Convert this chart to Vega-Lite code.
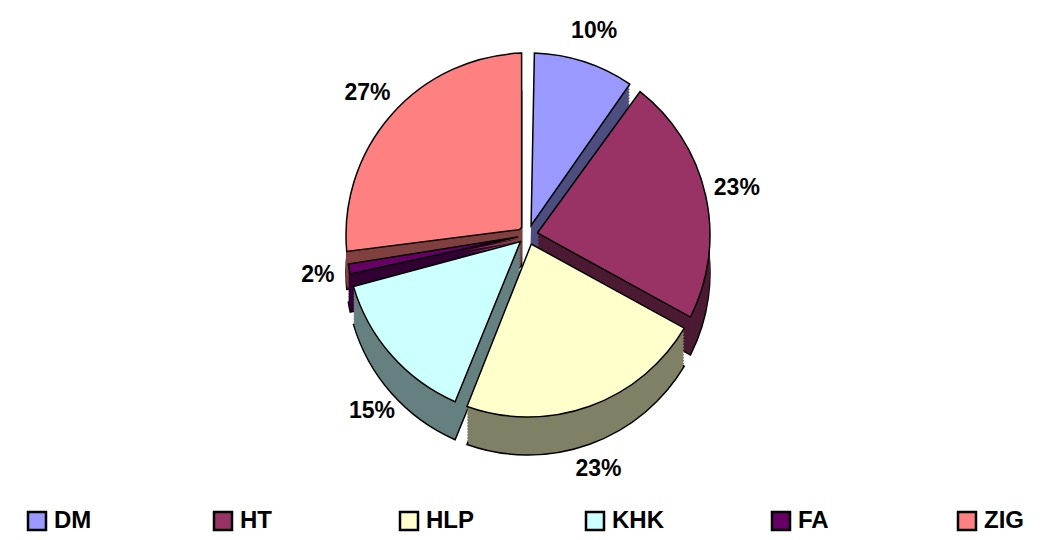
{
  "$schema": "https://vega.github.io/schema/vega-lite/v6.json",
  "autosize": {"type": "none"},
  "width": 1056,
  "height": 470,
  "padding": {"top": 0, "left": 0, "right": 0, "bottom": 70},
  "background": "white",
  "data": {
    "values": [
      {"cat": "DM", "ord": 1, "share": 0.10},
      {"cat": "HT", "ord": 2, "share": 0.23},
      {"cat": "HLP", "ord": 3, "share": 0.23},
      {"cat": "KHK", "ord": 4, "share": 0.15},
      {"cat": "FA", "ord": 5, "share": 0.02},
      {"cat": "ZIG", "ord": 6, "share": 0.27}
    ]
  },
  "encoding": {
    "theta": {"field": "share", "type": "quantitative", "stack": true},
    "order": {"field": "ord", "type": "quantitative"}
  },
  "resolve": {"scale": {"color": "independent"}, "legend": {"color": "independent"}},
  "layer": [
    {"mark": {"type": "arc", "outerRadius": 182, "innerRadius": 10, "padAngle": 0.07, "yOffset": 38, "stroke": "black", "strokeWidth": 1.5},
     "encoding": {"color": {"field": "cat", "type": "nominal", "legend": null, "scale": {"domain": ["DM", "HT", "HLP", "KHK", "FA", "ZIG"], "range": ["#4D4D80", "#4D1A33", "#808066", "#668080", "#330033", "#804040"]}}}},
    {"mark": {"type": "arc", "outerRadius": 182, "innerRadius": 10, "padAngle": 0.07, "yOffset": 35},
     "encoding": {"color": {"field": "cat", "type": "nominal", "legend": null, "scale": {"domain": ["DM", "HT", "HLP", "KHK", "FA", "ZIG"], "range": ["#4D4D80", "#4D1A33", "#808066", "#668080", "#330033", "#804040"]}}}},
    {"mark": {"type": "arc", "outerRadius": 182, "innerRadius": 10, "padAngle": 0.07, "yOffset": 32},
     "encoding": {"color": {"field": "cat", "type": "nominal", "legend": null, "scale": {"domain": ["DM", "HT", "HLP", "KHK", "FA", "ZIG"], "range": ["#4D4D80", "#4D1A33", "#808066", "#668080", "#330033", "#804040"]}}}},
    {"mark": {"type": "arc", "outerRadius": 182, "innerRadius": 10, "padAngle": 0.07, "yOffset": 29},
     "encoding": {"color": {"field": "cat", "type": "nominal", "legend": null, "scale": {"domain": ["DM", "HT", "HLP", "KHK", "FA", "ZIG"], "range": ["#4D4D80", "#4D1A33", "#808066", "#668080", "#330033", "#804040"]}}}},
    {"mark": {"type": "arc", "outerRadius": 182, "innerRadius": 10, "padAngle": 0.07, "yOffset": 26},
     "encoding": {"color": {"field": "cat", "type": "nominal", "legend": null, "scale": {"domain": ["DM", "HT", "HLP", "KHK", "FA", "ZIG"], "range": ["#4D4D80", "#4D1A33", "#808066", "#668080", "#330033", "#804040"]}}}},
    {"mark": {"type": "arc", "outerRadius": 182, "innerRadius": 10, "padAngle": 0.07, "yOffset": 23},
     "encoding": {"color": {"field": "cat", "type": "nominal", "legend": null, "scale": {"domain": ["DM", "HT", "HLP", "KHK", "FA", "ZIG"], "range": ["#4D4D80", "#4D1A33", "#808066", "#668080", "#330033", "#804040"]}}}},
    {"mark": {"type": "arc", "outerRadius": 182, "innerRadius": 10, "padAngle": 0.07, "yOffset": 20},
     "encoding": {"color": {"field": "cat", "type": "nominal", "legend": null, "scale": {"domain": ["DM", "HT", "HLP", "KHK", "FA", "ZIG"], "range": ["#4D4D80", "#4D1A33", "#808066", "#668080", "#330033", "#804040"]}}}},
    {"mark": {"type": "arc", "outerRadius": 182, "innerRadius": 10, "padAngle": 0.07, "yOffset": 17},
     "encoding": {"color": {"field": "cat", "type": "nominal", "legend": null, "scale": {"domain": ["DM", "HT", "HLP", "KHK", "FA", "ZIG"], "range": ["#4D4D80", "#4D1A33", "#808066", "#668080", "#330033", "#804040"]}}}},
    {"mark": {"type": "arc", "outerRadius": 182, "innerRadius": 10, "padAngle": 0.07, "yOffset": 14},
     "encoding": {"color": {"field": "cat", "type": "nominal", "legend": null, "scale": {"domain": ["DM", "HT", "HLP", "KHK", "FA", "ZIG"], "range": ["#4D4D80", "#4D1A33", "#808066", "#668080", "#330033", "#804040"]}}}},
    {"mark": {"type": "arc", "outerRadius": 182, "innerRadius": 10, "padAngle": 0.07, "yOffset": 11},
     "encoding": {"color": {"field": "cat", "type": "nominal", "legend": null, "scale": {"domain": ["DM", "HT", "HLP", "KHK", "FA", "ZIG"], "range": ["#4D4D80", "#4D1A33", "#808066", "#668080", "#330033", "#804040"]}}}},
    {"mark": {"type": "arc", "outerRadius": 182, "innerRadius": 10, "padAngle": 0.07, "yOffset": 8},
     "encoding": {"color": {"field": "cat", "type": "nominal", "legend": null, "scale": {"domain": ["DM", "HT", "HLP", "KHK", "FA", "ZIG"], "range": ["#4D4D80", "#4D1A33", "#808066", "#668080", "#330033", "#804040"]}}}},
    {"mark": {"type": "arc", "outerRadius": 182, "innerRadius": 10, "padAngle": 0.07, "yOffset": 5},
     "encoding": {"color": {"field": "cat", "type": "nominal", "legend": null, "scale": {"domain": ["DM", "HT", "HLP", "KHK", "FA", "ZIG"], "range": ["#4D4D80", "#4D1A33", "#808066", "#668080", "#330033", "#804040"]}}}},
    {"mark": {"type": "arc", "outerRadius": 182, "innerRadius": 10, "padAngle": 0.07, "yOffset": 2},
     "encoding": {"color": {"field": "cat", "type": "nominal", "legend": null, "scale": {"domain": ["DM", "HT", "HLP", "KHK", "FA", "ZIG"], "range": ["#4D4D80", "#4D1A33", "#808066", "#668080", "#330033", "#804040"]}}}},
    {"mark": {"type": "arc", "outerRadius": 182, "innerRadius": 10, "padAngle": 0.07, "stroke": "black", "strokeWidth": 1.5},
     "encoding": {"color": {"field": "cat", "type": "nominal", "title": null,
       "scale": {"domain": ["DM", "HT", "HLP", "KHK", "FA", "ZIG"], "range": ["#9999FF", "#993366", "#FFFFCC", "#CCFFFF", "#660066", "#FF8080"]},
       "legend": {"orient": "none", "legendX": 25, "legendY": 509, "direction": "horizontal", "columns": 6, "gridAlign": "all", "columnPadding": 103,
         "symbolType": "square", "symbolSize": 324, "symbolStrokeColor": "black", "symbolStrokeWidth": 2.5, "symbolOpacity": 1,
         "labelFont": "Liberation Sans", "labelFontWeight": "bold", "labelFontSize": 24, "labelColor": "black", "labelOffset": 5}}}},
    {"mark": {"type": "text", "radius": 214, "font": "Liberation Sans", "fontWeight": "bold", "fontSize": 23, "color": "black"},
     "encoding": {"text": {"field": "share", "type": "quantitative", "format": ".0%"},
       "opacity": {"condition": {"test": "datum.cat !== 'HLP' && datum.cat !== 'KHK'", "value": 1}, "value": 0}}},
    {"mark": {"type": "text", "radius": 208, "yOffset": 38, "font": "Liberation Sans", "fontWeight": "bold", "fontSize": 23, "color": "black"},
     "encoding": {"text": {"field": "share", "type": "quantitative", "format": ".0%"},
       "opacity": {"condition": {"test": "datum.cat === 'HLP' || datum.cat === 'KHK'", "value": 1}, "value": 0}}}
  ]
}
